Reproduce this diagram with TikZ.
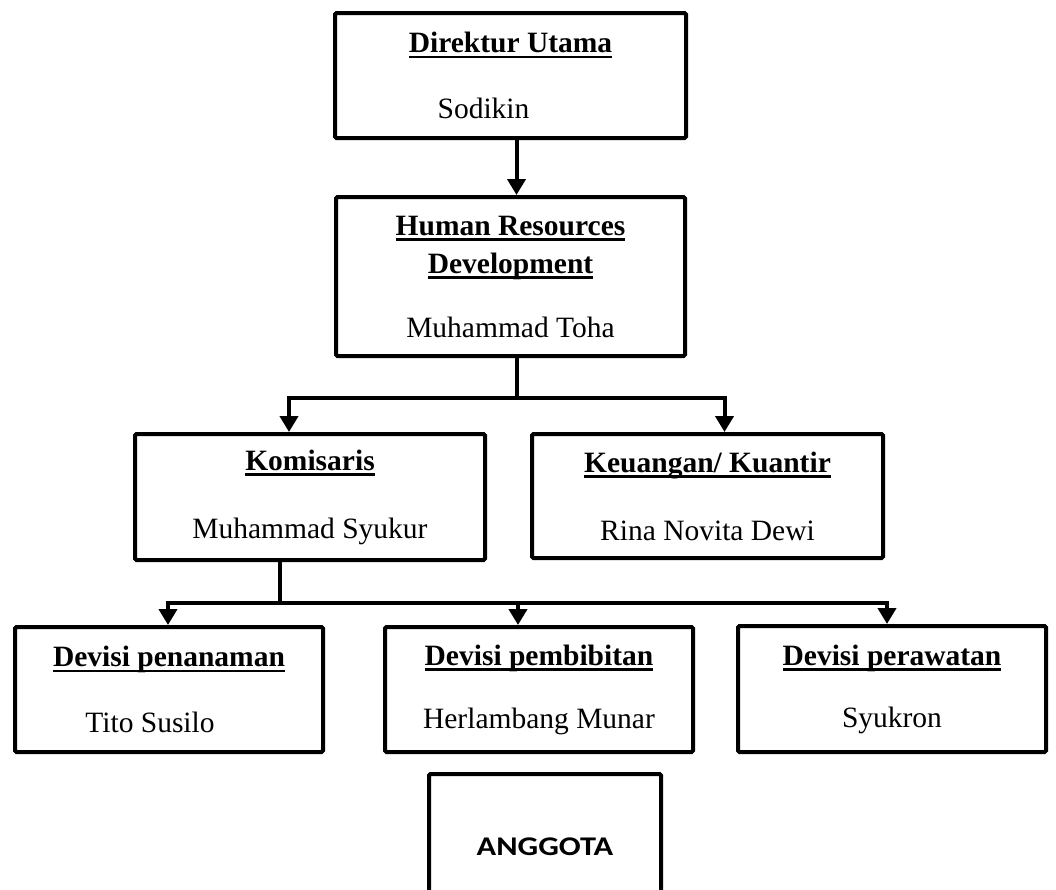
\documentclass[tikz,border=0pt]{standalone}
\usepackage{fontspec}
\setmainfont{Liberation Serif}
\newfontfamily\anggotafont[FakeStretch=1.2]{Carlito}
\usetikzlibrary{arrows.meta}
\newcommand\heading[1]{\setbox0\hbox{\bfseries #1}\rlap{\rule[-5.5pt]{\wd0}{2.5pt}}\box0}
\begin{document}
\begin{tikzpicture}[x=1pt, y=-1pt,
  box/.style={draw, line width=4pt, rounded corners=1.5pt, align=center, inner sep=0pt,
    font=\fontsize{29.5}{38}\selectfont},
  link/.style={line width=4pt},
  conn/.style={link, -{Triangle[width=18pt,length=16pt]}}]
  \clip (0,0) rectangle (1056,889);
  \fill[white] (0,0) rectangle (1056,889);

  \node[box, minimum width=351, minimum height=125] (dir) at (510.5,75.5)
    {\heading{Direktur Utama}\\[28pt]Sodikin\kern54pt};
  \node[box, minimum width=349, minimum height=159] (hrd) at (510.5,276.5)
    {\heading{Human Resources}\\\heading{Development}\\[26pt]Muhammad Toha};
  \node[box, minimum width=350, minimum height=126] (kom) at (310,497)
    {\heading{Komisaris}\\[30pt]Muhammad Syukur};
  \node[box, minimum width=351, minimum height=124] (keu) at (707.5,496)
    {\heading{Keuangan/ Kuantir}\\[30pt]Rina Novita Dewi};
  \node[box, minimum width=308, minimum height=125] (pen) at (169,689.5)
    {\heading{Devisi penanaman}\\[28pt]Tito Susilo\kern38pt};
  \node[box, minimum width=308, minimum height=125] (pem) at (539,689.5)
    {\heading{Devisi pembibitan}\\[25pt]Herlambang Munar};
  \node[box, minimum width=308, minimum height=126] (per) at (892,689)
    {\heading{Devisi perawatan}\\[24pt]Syukron};
  \node[box, minimum width=232, minimum height=146] (ang) at (545,847)
    {\anggotafont\bfseries\fontsize{27}{30}\selectfont ANGGOTA};

  \draw[conn] ([xshift=6]dir.south) -- ([xshift=6]hrd.north);
  \coordinate (hrdfork) at (516.5,398);
  \draw[link] ([xshift=6]hrd.south) -- (hrdfork);
  \draw[conn] (hrdfork) -| ([xshift=-21]kom.north);
  \draw[conn] (hrdfork) -| ([xshift=17]keu.north);
  \coordinate (komfork) at (280,603);
  \draw[link] (kom.south -| komfork) -- (komfork);
  \draw[conn] (komfork) -| ([xshift=-1]pen.north);
  \draw[conn] (komfork) -| ([xshift=-21]pem.north);
  \draw[conn] (komfork) -| ([xshift=-5]per.north);
\end{tikzpicture}
\end{document}
